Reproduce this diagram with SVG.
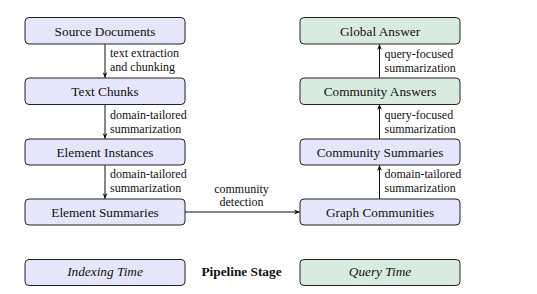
<svg xmlns="http://www.w3.org/2000/svg" width="537" height="294" viewBox="0 0 537 294">
<style>
.n{stroke:#222;stroke-width:1;}
.b{fill:#e6e6fa;}
.g{fill:#d9ebde;}
.t{font-family:"Liberation Serif",serif;font-size:13.3px;fill:#111;text-anchor:middle;}
.l{font-family:"Liberation Serif",serif;font-size:12px;fill:#111;}
.e{stroke:#111;stroke-width:1;fill:none;marker-end:url(#a);}
</style>
<defs>
<marker id="a" viewBox="0 0 10 10" refX="9" refY="5" markerWidth="6" markerHeight="6" orient="auto" markerUnits="userSpaceOnUse">
<path d="M0,1 L10,5 L0,9 L3,5 Z" fill="#111"/>
</marker>
</defs>
<rect width="537" height="294" fill="#fff"/>
<g id="connectors">
<line class="e" x1="105" y1="44" x2="105" y2="77.5"/>
<line class="e" x1="105" y1="104.5" x2="105" y2="138.5"/>
<line class="e" x1="105" y1="165" x2="105" y2="198.5"/>
<line class="e" x1="185" y1="212" x2="299.5" y2="212"/>
<line class="e" x1="379.5" y1="199" x2="379.5" y2="165.5"/>
<line class="e" x1="379.5" y1="139" x2="379.5" y2="104.5"/>
<line class="e" x1="379.5" y1="78" x2="379.5" y2="44.5"/>
<text class="l" x="110" y="57">text extraction</text>
<text class="l" x="110" y="71">and chunking</text>
<text class="l" x="110" y="118.5">domain-tailored</text>
<text class="l" x="110" y="132.5">summarization</text>
<text class="l" x="110" y="178">domain-tailored</text>
<text class="l" x="110" y="192">summarization</text>
<text class="l" x="241.5" y="193" text-anchor="middle">community</text>
<text class="l" x="241.5" y="206" text-anchor="middle">detection</text>
<text class="l" x="384.5" y="178">domain-tailored</text>
<text class="l" x="384.5" y="192">summarization</text>
<text class="l" x="384.5" y="118.5">query-focused</text>
<text class="l" x="384.5" y="132.5">summarization</text>
<text class="l" x="384.5" y="57.5">query-focused</text>
<text class="l" x="384.5" y="71.5">summarization</text>
</g>
<g id="source-documents"><rect class="n b" x="25" y="17.5" width="160" height="26.5" rx="4"/><text class="t" x="105" y="35.5">Source Documents</text></g>
<g id="text-chunks"><rect class="n b" x="25" y="78" width="160" height="26.5" rx="4"/><text class="t" x="105" y="96">Text Chunks</text></g>
<g id="element-instances"><rect class="n b" x="25" y="139" width="160" height="26" rx="4"/><text class="t" x="105" y="156.5">Element Instances</text></g>
<g id="element-summaries"><rect class="n b" x="25" y="199" width="160" height="26" rx="4"/><text class="t" x="105" y="216.5">Element Summaries</text></g>
<g id="graph-communities"><rect class="n b" x="300" y="199" width="160" height="26" rx="4"/><text class="t" x="380" y="216.5">Graph Communities</text></g>
<g id="community-summaries"><rect class="n b" x="300" y="139" width="160" height="26" rx="4"/><text class="t" x="380" y="156.5">Community Summaries</text></g>
<g id="community-answers"><rect class="n g" x="300" y="78" width="160" height="26.5" rx="4"/><text class="t" x="380" y="96">Community Answers</text></g>
<g id="global-answer"><rect class="n g" x="300" y="17.5" width="160" height="26.5" rx="4"/><text class="t" x="380" y="35.5">Global Answer</text></g>
<g id="legend-indexing"><rect class="n b" x="25" y="259.5" width="160" height="26" rx="4"/><text class="t" x="105" y="276" font-style="italic">Indexing Time</text></g>
<g id="legend-title"><text class="t" x="241.5" y="276" font-weight="bold">Pipeline Stage</text></g>
<g id="legend-query"><rect class="n g" x="300" y="259.5" width="160" height="26" rx="4"/><text class="t" x="380" y="276" font-style="italic">Query Time</text></g>
</svg>
